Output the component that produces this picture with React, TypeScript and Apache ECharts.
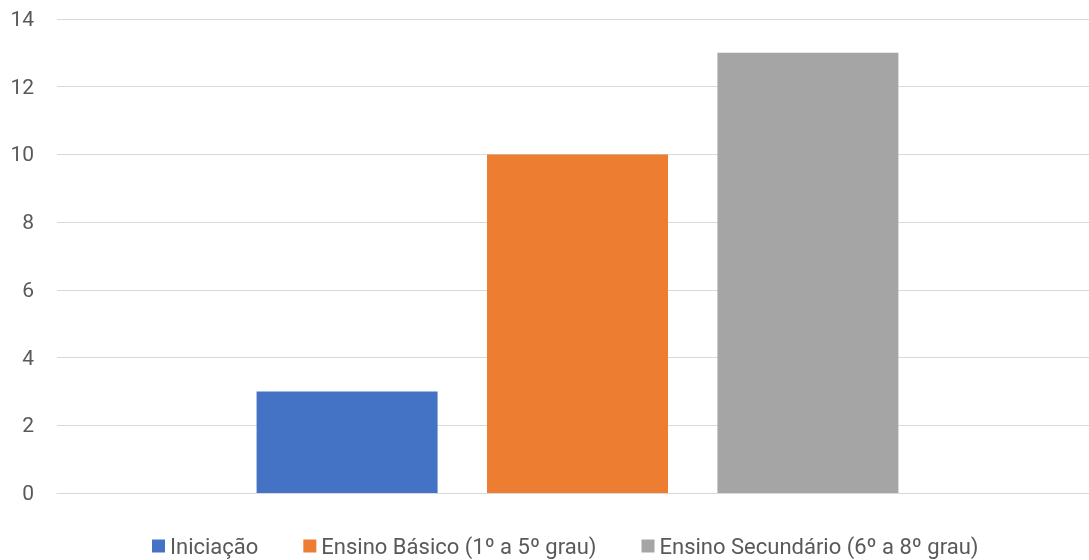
import React, { useEffect, useRef } from "react";
import * as echarts from "echarts";

const categories = [""];
const seriesNames = ["Iniciação", "Ensino Básico (1º a 5º grau)", "Ensino Secundário (6º a 8º grau)"];
const seriesValues = [[3], [10], [13]];
const colors = ["#4472C4", "#ED7D31", "#A5A5A5"];

export default function App() {
  const ref = useRef<HTMLDivElement>(null);
  useEffect(() => {
    const chart = echarts.init(ref.current!, null, { renderer: "svg" });
    const font = "Roboto, 'Liberation Sans', sans-serif";
    chart.setOption({
      animation: false,
      textStyle: { fontFamily: font },
      grid: { left: 57, right: 0, top: 19, bottom: 67, containLabel: false },
      legend: {
        top: 530,
        left: 147,
        itemWidth: 13,
        itemHeight: 13,
        itemGap: 45,
        icon: "rect",
        textStyle: { fontSize: 22, color: "#595959", fontFamily: font },
        data: seriesNames,
      },
      xAxis: {
        type: "category",
        data: categories,
        axisLine: { show: true, lineStyle: { color: "#D9D9D9", width: 1 } },
        axisTick: { show: false },
        axisLabel: { show: false },
      },
      yAxis: {
        type: "value",
        min: 0,
        max: 14,
        interval: 2,
        axisLine: { show: false },
        axisTick: { show: false },
        axisLabel: { fontSize: 21, color: "#595959", margin: 23, fontFamily: font },
        splitLine: { lineStyle: { color: "#D9D9D9", width: 1 } },
      },
      series: seriesNames.map((name, i) => ({
        name,
        type: "bar",
        data: seriesValues[i],
        barWidth: 181,
        barGap: "27.3%",
        itemStyle: { color: colors[i] },
      })),
    });
    return () => chart.dispose();
  }, []);
  return (
    <div
      ref={ref}
      style={{ position: "fixed", left: 0, top: 0, width: 1098, height: 560 }}
    />
  );
}
